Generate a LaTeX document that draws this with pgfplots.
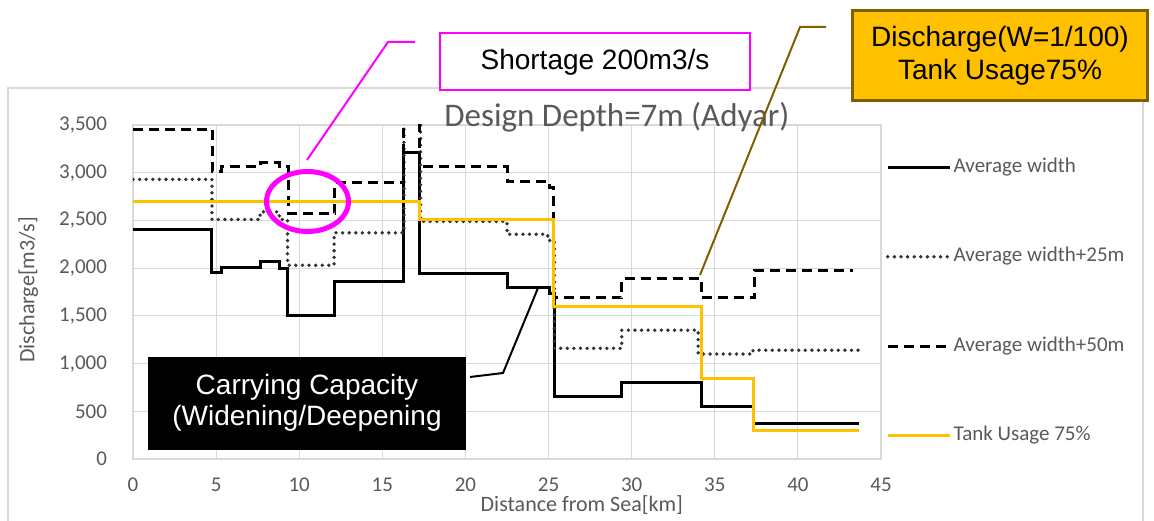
\documentclass[border=0pt]{standalone}
\usepackage{pgfplots}
\pgfplotsset{compat=1.18}
\usepackage{fontspec}
\setmainfont{Carlito}
\newfontfamily\arial{Liberation Sans}
\definecolor{txt}{RGB}{89,89,89}
\definecolor{tank}{RGB}{255,192,0}
\definecolor{grd}{RGB}{217,217,217}
\definecolor{brn}{RGB}{127,96,0}
\definecolor{dotc}{RGB}{50,50,50}
\definecolor{mag}{RGB}{255,0,255}

\begin{document}
\begin{tikzpicture}
\begin{axis}[
    scale only axis,
    width=374pt, height=167pt,
    xmin=0, xmax=45, ymin=0, ymax=3500,
    xtick={0,5,...,45}, ytick={0,500,...,3500},
    clip mode=individual,
    grid=major,
    grid style={grd, line width=0.6pt},
    axis line style={grd, line width=0.6pt},
    tick style={draw=none},
    /pgf/number format/assume math mode=true,
    /pgf/number format/1000 sep={,},
    ticklabel style={font=\fontsize{10.5}{12}\selectfont, text=txt},
    yticklabel style={xshift=-9.5pt},
    xticklabel style={yshift=-6pt},
    xlabel={Distance from Sea[km]},
    ylabel={Discharge[m3/s]},
    label style={font=\fontsize{11}{13}\selectfont, text=txt},
    xlabel style={at={(axis description cs:0.6,-0.138)}, anchor=center},
    ylabel style={at={(axis description cs:-0.14,0.506)}, anchor=center},
    legend style={at={(rel axis cs:1.006,0.036)}, anchor=south west,
        draw=none, fill=none, inner sep=0pt, row sep=33.7pt,
        font=\fontsize{10.5}{12}\selectfont, text=txt,
        nodes={inner sep=1pt, text height=7pt, text depth=2pt}},
    legend cell align=left,
    legend image code/.code={\draw[#1] plot coordinates {(0pt,0pt) (31pt,0pt)};},
]
% Average width
\addplot[const plot, black, line width=1.5pt] coordinates {
    (0,2400) (4.75,1950) (5.3,2010) (7.65,2070) (8.8,2000) (9.3,1500)
    (12.15,1860) (16.3,3210) (17.25,1940) (22.5,1800) (25.05,1730)
    (25.35,650) (29.4,800) (34.2,550) (37.3,375) (43.65,375)
};
% Average width+25m
\addplot[const plot, dotc, line width=1.9pt, line cap=round, dash pattern=on 0pt off 3.3pt] coordinates {
    (0,2930) (4.75,2510) (7.65,2590) (8.8,2510) (9.3,2030) (12.1,2370)
    (16.3,3700) (17.3,2490) (22.5,2355) (24.95,2290) (25.35,1160)
    (29.4,1350) (34.0,1100) (37.3,1140) (43.65,1140)
};
% Average width+50m
\addplot[const plot, black, line width=1.5pt, dash pattern=on 5pt off 3pt] coordinates {
    (0,3450) (4.77,3010) (5.33,3065) (7.65,3105) (8.84,3065) (9.34,2570)
    (12.15,2895) (16.25,4200) (17.25,3065) (22.5,2910) (25.05,2850)
    (25.3,1690) (29.4,1890) (34.2,1690) (37.4,1980) (43.3,1980)
};
% Tank Usage 75%
\addplot[const plot, tank, line width=1.5pt] coordinates {
    (0,2700) (17.25,2510) (25.3,1600) (34.2,840) (37.35,300) (43.65,300)
};
\legend{Average width, Average width+25m, Average width+50m, Tank Usage 75\%}
\node[font=\fontsize{16.5}{18}\selectfont, text=txt, anchor=base]
    at (rel axis cs:0.647,0.997) {Design Depth=7m (Adyar)};
\end{axis}

% annotations, in pixel units of the reference
\begin{scope}[x=0.5pt, y=-0.5pt, shift={(-133,-459)}]
\draw[grd, line width=0.6pt] (8,530) -- (8,88) -- (1143,88) -- (1143,530);
% shortage
\draw[mag, line width=1pt] (415,42) -- (388,42) -- (307,160);
\draw[mag, line width=2.5pt] (307.5,201.5) ellipse [x radius=41, y radius=30];
\draw[mag, line width=1pt, fill=white] (440,33) rectangle (750,90);
\node[font=\arial\fontsize{14}{16}\selectfont] at (595,62) {Shortage 200m3/s};
% discharge
\draw[brn, line width=1pt] (826,27) -- (800,27) -- (700,275);
\draw[brn, line width=1.5pt, fill=tank] (852,11) rectangle (1147,101);
\node[font=\arial\fontsize{14}{16.5}\selectfont, align=center] at (1000,56)
    {Discharge(W=1/100)\\Tank Usage75\%};
% carrying capacity
\draw[black, line width=1pt] (470,377) -- (503,373) -- (538,288);
\fill[black] (148,357) rectangle (466,450);
\node[font=\arial\fontsize{14}{15.5}\selectfont, align=center, text=white] at (307,403)
    {Carrying Capacity\\(Widening/Deepening};
\pgfresetboundingbox
\path (0,0) rectangle (1154,520);
\end{scope}
\end{tikzpicture}
\end{document}
